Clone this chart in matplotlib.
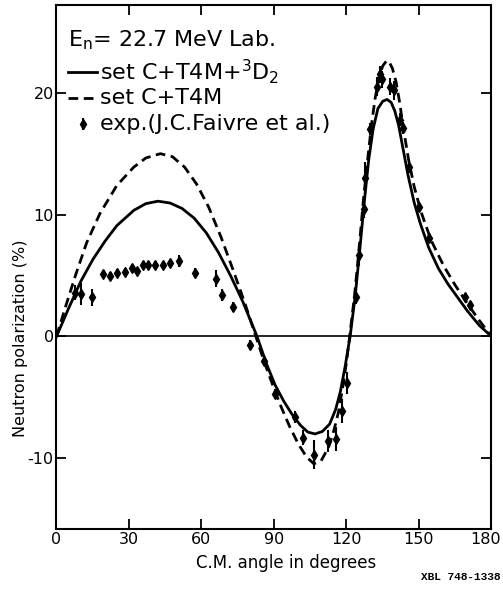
import matplotlib
matplotlib.use("Agg")
import matplotlib.pyplot as plt
import matplotlib.transforms as mtransforms

plt.rcParams['axes.unicode_minus'] = False

# curve: set C+T4M+3D2 (solid)
solid_x = [0, 5, 10, 15, 20, 25, 32, 37, 42, 47, 52, 57, 62, 67, 72, 77, 83,
           87, 90.5, 94, 97.5, 101, 104, 107, 110, 113, 115.5, 117.5, 119.5, 121.5,
           123.6, 125.6, 127.5, 129.2, 131, 133, 135, 136.8, 138.5, 140, 141.6, 143.5, 145.5, 148, 150.5,
           154, 158, 162, 166, 170, 175, 180]
solid_y = [0, 2.3, 4.5, 6.3, 7.8, 9.1, 10.35, 10.9, 11.1, 10.95, 10.5, 9.7, 8.5, 6.9, 5.0, 2.9, 0,
           -2.3, -4.0, -5.3, -6.4, -7.3, -7.85, -8.0, -7.8, -7.2, -6.0, -4.5, -2.4, 0,
           3.3, 7.3, 11.3, 14.5, 17.0, 18.7, 19.3, 19.45, 19.2, 18.5, 17.3, 15.3, 13.2, 11.0, 9.3,
           7.3, 5.6, 4.3, 3.2, 2.1, 0.9, 0]

# set C+T4M (dashed)
dash_x = [0, 4, 8, 12.5, 18, 25, 32, 37, 43, 48, 53, 58, 63, 68, 73, 78, 82.5,
          86, 89.5, 93, 96.5, 100, 103.5, 106.5, 109.5, 112.6, 114.8, 116.7, 118.5, 120, 121.3,
          123.3, 125.2, 127, 128.8, 130.5, 131.9, 133.5, 135, 136.5, 137.5, 139, 140.5, 142, 143.6,
          145.7, 148, 150.9, 155, 160.2, 165, 170, 175, 180]
dash_y = [0, 2.6, 5.1, 7.7, 10.1, 12.4, 13.9, 14.65, 15.0, 14.75, 13.9, 12.5, 10.6, 8.2, 5.5, 2.7, 0,
          -2.1, -4.0, -5.8, -7.4, -8.8, -9.9, -10.45, -10.2, -9.1, -7.7, -6.2, -4.1, -2.1, 0,
          3.3, 7.2, 11.2, 14.6, 17.6, 19.6, 21.3, 22.2, 22.6, 22.6, 22.0, 20.9, 19.2, 17.0,
          14.5, 12.3, 10.2, 7.9, 5.8, 4.2, 2.7, 1.3, 0]

# exp. (J.C. Faivre et al.)
exp_x = [7.7, 10.0, 14.8, 19.1, 22.2, 25.2, 28.4, 31.1, 33.5, 36.0, 38.0, 40.8, 44.2, 47.0, 50.5,
         57.4, 66.1, 68.4, 73.2, 80.2, 86.0, 90.5, 98.5, 101.8, 106.4, 112.3, 115.8, 118.1, 120.2,
         124.1, 125.0, 127.4, 127.8, 129.9, 132.6, 133.7, 134.7, 138.2, 139.8, 142.3, 143.4,
         145.8, 149.9, 154.0, 169.2, 171.3]
exp_y = [3.6, 3.5, 3.2, 5.1, 5.0, 5.2, 5.3, 5.6, 5.35, 5.9, 5.9, 5.9, 5.85, 6.0, 6.2,
         5.2, 4.75, 3.4, 2.4, -0.7, -2.0, -4.7, -6.6, -8.3, -9.7, -8.6, -8.4, -6.1, -3.8,
         3.2, 6.7, 10.5, 13.0, 17.0, 20.5, 21.5, 21.1, 20.5, 20.2, 17.8, 17.1,
         13.9, 10.6, 8.1, 3.2, 2.55]
exp_err = [0.6, 0.9, 0.7, 0.3, 0.3, 0.3, 0.3, 0.3, 0.3, 0.3, 0.3, 0.3, 0.3, 0.3, 0.5,
           0.4, 0.7, 0.5, 0.4, 0.4, 0.4, 0.4, 0.5, 0.6, 1.2, 0.9, 1.0, 1.0, 0.9,
           0.5, 0.9, 0.8, 1.3, 0.5, 0.8, 0.7, 0.7, 0.7, 0.8, 0.5, 0.5,
           0.5, 0.4, 0.3, 0.3, 0.3]

x_ticks = [0, 30, 60, 90, 120, 150, 180]
y_ticks = [-10, 0, 10, 20]

fig = plt.figure(figsize=(5.03, 5.89), dpi=100)
ax = fig.add_axes([0.1123, 0.1019, 0.8648, 0.8896])

ax.axhline(0, color='black', lw=1.2)
ax.plot(solid_x, solid_y, '-', color='black', lw=2.0)
ax.plot(dash_x, dash_y, '--', color='black', lw=2.0, dashes=(3.5, 2))
ax.errorbar(exp_x, exp_y, yerr=exp_err, fmt='d', color='black', ms=5.5, elinewidth=1.5, capsize=0)

ax.set_xlim(0, 180)
ax.set_ylim(-15.8, 27.2)
ax.set_xticks(x_ticks)
ax.set_yticks(y_ticks)
ax.tick_params(direction='in', length=7, width=1.3, top=True, right=True,
               labeltop=False, labelright=False, labelsize=11.5, pad=2)
for s in ax.spines.values():
    s.set_linewidth(1.5)

# keep "180" inside the picture
last = ax.get_xticklabels()[-1]
last.set_transform(last.get_transform() + mtransforms.ScaledTranslation(-4 / 72, 0, fig.dpi_scale_trans))

ax.set_xlabel('C.M. angle in degrees', fontsize=12)
ax.set_ylabel('Neutron polarization (%)', fontsize=11.5)
ax.xaxis.set_label_coords(0.5276, -0.048)
ax.yaxis.set_label_coords(-0.066, 0.3645)

# legend drawn by hand, like the original
fs = 16
ax.text(0.026, 0.933, r'E$_\mathrm{n}$= 22.7 MeV Lab.', transform=ax.transAxes, fontsize=fs, va='center')
ax.plot([0.026, 0.093], [0.872, 0.872], '-', color='black', lw=2.0, transform=ax.transAxes)
ax.text(0.1, 0.872, r'set C+T4M+$^3$D$_2$', transform=ax.transAxes, fontsize=fs, va='center')
ax.plot([0.026, 0.093], [0.823, 0.823], '--', color='black', lw=2.0, dashes=(3.5, 2), transform=ax.transAxes)
ax.text(0.1, 0.823, 'set C+T4M', transform=ax.transAxes, fontsize=fs, va='center')
ax.errorbar([0.06], [0.773], yerr=[0.012], fmt='d', color='black', ms=5.5, elinewidth=1.5,
            transform=ax.transAxes)
ax.text(0.1, 0.773, 'exp.(J.C.Faivre et al.)', transform=ax.transAxes, fontsize=fs, va='center')

fig.text(0.995, 0.012, 'XBL 748-1338', fontsize=8, family='Liberation Mono', weight='bold',
         ha='right', va='bottom')

fig.savefig('out.png', dpi=100)
